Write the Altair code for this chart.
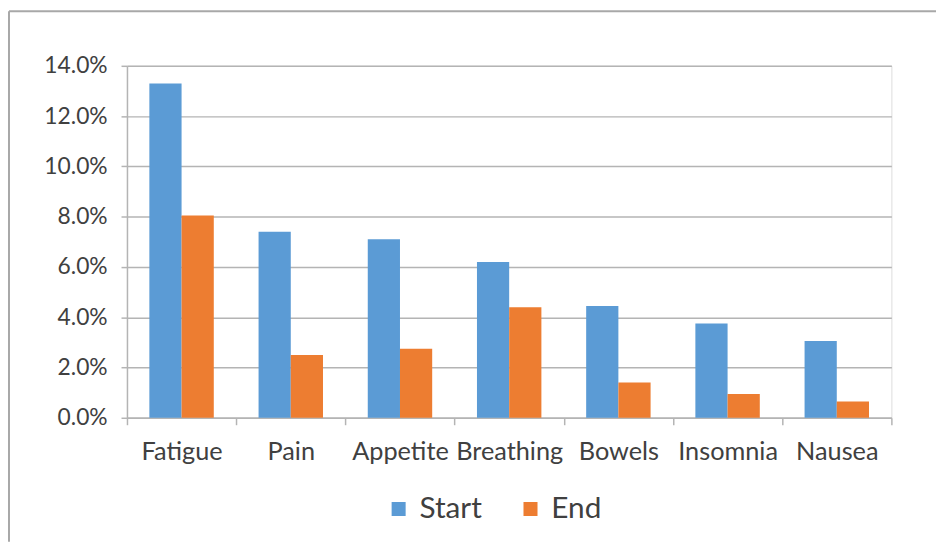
import altair as alt
import pandas as pd

categories = ["Fatigue", "Pain", "Appetite", "Breathing", "Bowels", "Insomnia", "Nausea"]
series_names = ["Start", "End"]
start_vals = [0.133, 0.074, 0.071, 0.062, 0.0445, 0.0375, 0.0305]
end_vals = [0.0805, 0.025, 0.0275, 0.044, 0.014, 0.0095, 0.0065]
y_ticks = [0, 0.02, 0.04, 0.06, 0.08, 0.10, 0.12, 0.14]
colors = ["#5B9BD5", "#ED7D31"]

rows = []
for c, s, e in zip(categories, start_vals, end_vals):
    rows.append({"category": c, "series": "Start", "value": s})
    rows.append({"category": c, "series": "End", "value": e})
df = pd.DataFrame(rows)

FONT = "Lato"
TXT = "#404040"
GRID = "#B4B4B4"

bars = alt.Chart(df).mark_bar(stroke=None).encode(
    x=alt.X("category:N", sort=categories, title=None,
            scale=alt.Scale(paddingInner=0, paddingOuter=0),
            axis=alt.Axis(labelAngle=0, tickBand="extent", tickSize=7,
                          labelPadding=15, labelFontSize=25.5, labelFont=FONT,
                          labelColor=TXT, domainColor=GRID, tickColor=GRID,
                          domainWidth=1.5, tickWidth=1.5, grid=False)),
    xOffset=alt.XOffset("series:N", sort=series_names,
                        scale=alt.Scale(domain=series_names, paddingInner=0, paddingOuter=0.695)),
    y=alt.Y("value:Q", title=None,
            scale=alt.Scale(domain=[0, 0.14], nice=False),
            axis=alt.Axis(values=y_ticks, format=".1%", tickSize=6, labelPadding=14,
                          labelFontSize=23, labelFont=FONT, labelColor=TXT,
                          domainColor=GRID, tickColor=GRID, gridColor=GRID,
                          domainWidth=1.5, tickWidth=1.5, gridWidth=1.5)),
    color=alt.Color("series:N", sort=series_names,
                    scale=alt.Scale(domain=series_names, range=colors),
                    legend=alt.Legend(title=None, orient="none", direction="horizontal",
                                      legendX=259, legendY=432, symbolType="square",
                                      symbolSize=200, symbolStrokeWidth=0,
                                      labelFontSize=30, labelFont=FONT, labelColor=TXT,
                                      columnPadding=34, labelOffset=6)),
)

frame_df = pd.DataFrame({"a": [0]})
left_border = alt.Chart(frame_df).mark_rule(color="#A8A8A8", strokeWidth=2).encode(
    x=alt.value(-119), y=alt.value(-55), y2=alt.value(480))
top_border = alt.Chart(frame_df).mark_rule(color="#A8A8A8", strokeWidth=2).encode(
    x=alt.value(-119), x2=alt.value(830), y=alt.value(-55))

chart = alt.layer(bars, left_border, top_border).properties(
    width=771, height=355,
    autosize=alt.AutoSizeParams(type="none"),
    padding={"left": 120, "top": 56, "right": 45, "bottom": 125},
).configure_view(stroke=None).configure(background="white")

chart.save("out.html", embed_options={"renderer": "svg", "actions": False})
